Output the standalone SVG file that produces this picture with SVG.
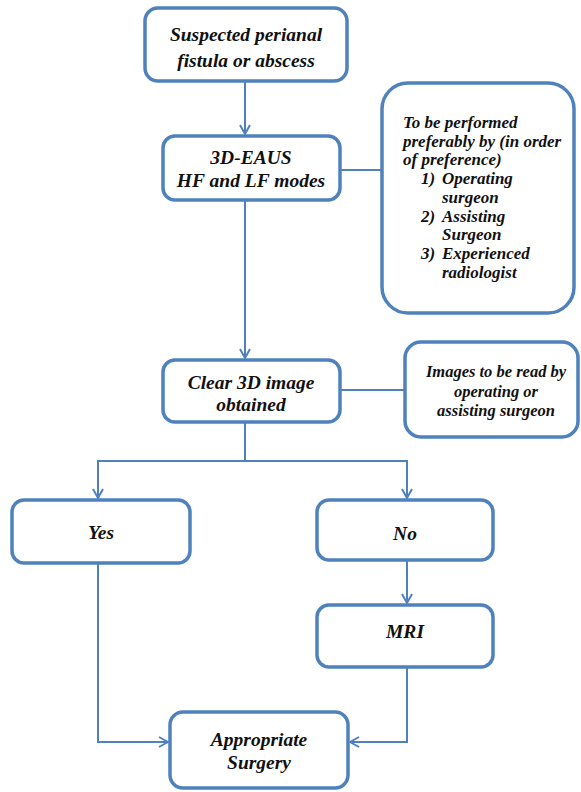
<svg xmlns="http://www.w3.org/2000/svg" width="581" height="792" viewBox="0 0 581 792">
<defs>
<marker id="arr" viewBox="0 0 12 12" refX="11" refY="6" markerWidth="12" markerHeight="12" markerUnits="userSpaceOnUse" orient="auto">
<polyline points="2,1 11,6 2,11" fill="none" stroke="#4f81bd" stroke-width="2"/>
</marker>
</defs>
<style>
.box{fill:#fff;stroke:#4f81bd;stroke-width:3.5}
text{font-family:"Liberation Serif","DejaVu Serif",serif;font-weight:bold;font-style:italic;fill:#111}
.t{font-size:19.5px;text-anchor:middle}
.s{font-size:17px}
.m{font-size:16.5px;text-anchor:middle}
.c{fill:none;stroke:#4f81bd;stroke-width:2}
</style>
<rect width="581" height="792" fill="#fff"/>
<g id="connectors">
<line class="c" x1="245" y1="82" x2="245" y2="134" marker-end="url(#arr)"/>
<line class="c" x1="340" y1="170" x2="382" y2="170"/>
<line class="c" x1="245" y1="200" x2="245" y2="358" marker-end="url(#arr)"/>
<line class="c" x1="340" y1="390" x2="405" y2="390"/>
<polyline class="c" points="245,422 245,461 98,461 98,498" marker-end="url(#arr)"/>
<polyline class="c" points="245,461 407,461 407,498" marker-end="url(#arr)"/>
<line class="c" x1="407" y1="560" x2="407" y2="603" marker-end="url(#arr)"/>
<polyline class="c" points="98,563 98,742 168,742" marker-end="url(#arr)"/>
<polyline class="c" points="407,667 407,742 350,742" marker-end="url(#arr)"/>
</g>
<g id="n1">
<rect class="box" x="145" y="8" width="202" height="73" rx="13"/>
<text class="t" x="246" y="41">Suspected perianal</text>
<text class="t" x="246" y="67">fistula or abscess</text>
</g>
<g id="n2">
<rect class="box" x="163" y="136" width="177" height="64" rx="12"/>
<text class="t" x="251" y="164">3D-EAUS</text>
<text class="t" x="251" y="187">HF and LF modes</text>
</g>
<g id="n3">
<rect class="box" x="382" y="83" width="192" height="230" rx="26"/>
<text class="s" x="403" y="128">To be performed</text>
<text class="s" x="403" y="147">preferably by (in order</text>
<text class="s" x="403" y="165">of preference)</text>
<text class="s" x="421" y="184">1)</text>
<text class="s" x="442" y="184">Operating</text>
<text class="s" x="442" y="203">surgeon</text>
<text class="s" x="421" y="222">2)</text>
<text class="s" x="442" y="222">Assisting</text>
<text class="s" x="442" y="240">Surgeon</text>
<text class="s" x="421" y="259">3)</text>
<text class="s" x="442" y="259">Experienced</text>
<text class="s" x="442" y="278">radiologist</text>
</g>
<g id="n4">
<rect class="box" x="163" y="360" width="177" height="62" rx="12"/>
<text class="t" x="251" y="389">Clear 3D image</text>
<text class="t" x="251" y="411">obtained</text>
</g>
<g id="n5">
<rect class="box" x="405" y="342" width="173" height="95" rx="16"/>
<text class="m" x="496" y="377">Images to be read by</text>
<text class="m" x="496" y="397">operating or</text>
<text class="m" x="496" y="416">assisting surgeon</text>
</g>
<g id="n6">
<rect class="box" x="12" y="500" width="178" height="63" rx="12"/>
<text class="t" x="101" y="539">Yes</text>
</g>
<g id="n7">
<rect class="box" x="317" y="500" width="176" height="60" rx="12"/>
<text class="t" x="405" y="540">No</text>
</g>
<g id="n8">
<rect class="box" x="317" y="605" width="176" height="62" rx="12"/>
<text class="t" x="405" y="638">MRI</text>
</g>
<g id="n9">
<rect class="box" x="170" y="712" width="178" height="76" rx="13"/>
<text class="t" x="259" y="746">Appropriate</text>
<text class="t" x="259" y="769">Surgery</text>
</g>
</svg>
